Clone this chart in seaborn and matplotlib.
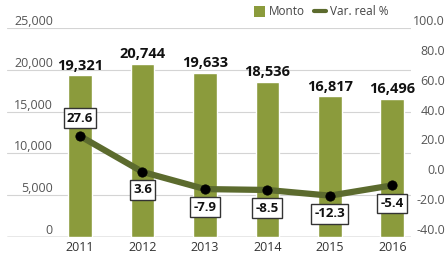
import matplotlib
matplotlib.use('Agg')
import matplotlib.pyplot as plt
import seaborn as sns
import numpy as np
from matplotlib.patches import Patch
from matplotlib.lines import Line2D

years = ['2011', '2012', '2013', '2014', '2015', '2016']
monto = [19321, 20744, 19633, 18536, 16817, 16496]
var_real = [27.6, 3.6, -7.9, -8.5, -12.3, -5.4]
left_ticks = [0, 5000, 10000, 15000, 20000, 25000]
right_ticks = [-40, -20, 0, 20, 40, 60, 80, 100]
legend_labels = ['Monto', 'Var. real %']

bar_color = '#8b9b3c'
line_color = '#5c6b2e'

sns.set_theme(style='white')
plt.rcParams['font.family'] = ['Open Sans', 'DejaVu Sans']

fig = plt.figure(figsize=(4.48, 2.58), dpi=100)
ax = fig.add_axes([7 / 448, 21 / 258, 404 / 448, 209 / 258])

sns.barplot(x=years, y=monto, ax=ax, color=bar_color, saturation=1, width=0.38, zorder=2)
ax.set_ylim(0, 25000)
ax.set_yticks(left_ticks)
ax.set_yticklabels([f'{t:,}' for t in left_ticks])
ax.grid(axis='y', color='#d4d4d4', lw=0.8, zorder=0)
ax.set_axisbelow(True)
ax.tick_params(axis='y', pad=-33, length=0, labelsize=9, labelcolor='#555555')
for lab in ax.get_yticklabels():
    lab.set_va('bottom')
ax.tick_params(axis='x', length=0, labelsize=9, pad=3, labelcolor='#333333')
ax.set_xlabel('')
ax.set_ylabel('')
for s in ax.spines.values():
    s.set_visible(False)
ax.axhline(0, color='#999999', lw=1, zorder=1)

ax.bar_label(ax.containers[0], labels=[f'{v:,}' for v in monto], padding=2,
             fontsize=10.5, fontweight='bold', color='#111111')

ax2 = ax.twinx()
positions = np.arange(len(years))
sns.lineplot(x=positions, y=var_real, ax=ax2, color=line_color, lw=4.5, zorder=3)
sns.scatterplot(x=positions, y=var_real, ax=ax2, color='black', s=45, zorder=4, edgecolor='black')
ax2.set_ylim(-40, 100)
ax2.set_yticks(right_ticks)
ax2.set_yticklabels([f'{t:.1f}' for t in right_ticks])
ax2.tick_params(axis='y', pad=24.5, length=0, labelsize=9, labelcolor='#555555')
for lab in ax2.get_yticklabels():
    lab.set_ha('right')
    lab.set_va('bottom')
ax2.set_xlabel('')
ax2.set_ylabel('')
for s in ax2.spines.values():
    s.set_visible(False)

for i, v in enumerate(var_real):
    ax2.annotate(f'{v:.1f}', (i, v), xytext=(0, 13 if v > 10 else -13),
                 textcoords='offset points', ha='center', va='center',
                 fontsize=9.5, fontweight='bold', color='#111111', zorder=5,
                 bbox=dict(boxstyle='square,pad=0.25', fc='white', ec='#333333', lw=1))

ax.set_xlim(-1.17, 5.3)
ax2.set_xlim(-1.17, 5.3)

handles = [Patch(facecolor=bar_color, edgecolor='none'),
           Line2D([0], [0], color=line_color, lw=3)]
fig.legend(handles, legend_labels, loc='upper left', bbox_to_anchor=(243 / 448, 1.02),
           ncol=2, frameon=False, fontsize=8.5, handlelength=1.0, handleheight=1.0,
           handletextpad=0.3, columnspacing=0.8, labelcolor='#444444')

fig.savefig('out.png', dpi=100)
